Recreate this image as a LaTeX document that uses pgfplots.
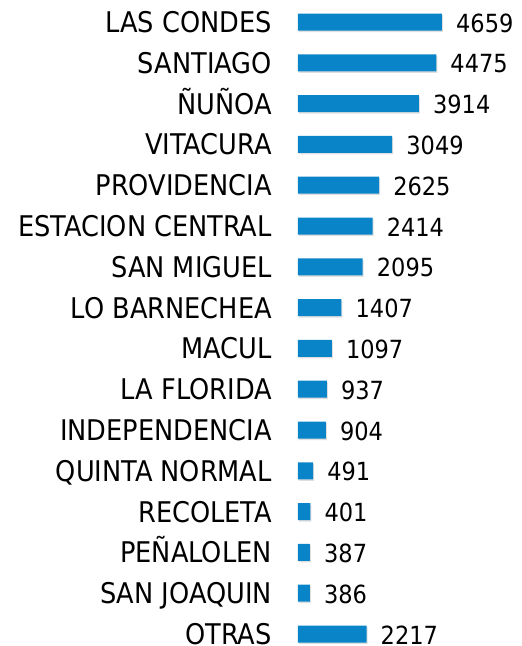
\documentclass[border=0pt]{standalone}
\usepackage{fontspec}
\setmainfont{DejaVu Sans Condensed}
\usepackage{pgfplots}
\pgfplotsset{compat=1.18}
\usetikzlibrary{shadows}
\definecolor{barblue}{RGB}{10,132,200}
\begin{document}
\begin{tikzpicture}
\begin{axis}[
  scale only axis,
  width=224pt, height=652.8pt,
  xmin=0, xmax=7249,
  ymin=-0.5, ymax=15.5,
  y dir=reverse,
  hide x axis,
  y axis line style={draw=none},
  ytick style={draw=none},
  major tick length=0pt,
  ytick={0,...,15},
  yticklabels={LAS CONDES,SANTIAGO,ÑUÑOA,VITACURA,PROVIDENCIA,ESTACION CENTRAL,SAN MIGUEL,LO BARNECHEA,MACUL,LA FLORIDA,INDEPENDENCIA,QUINTA NORMAL,RECOLETA,PEÑALOLEN,SAN JOAQUIN,OTRAS},
  yticklabel style={font=\fontsize{28.5}{32}\selectfont, anchor=east, inner sep=0pt, text height=20.8pt, text depth=0pt, xshift=-26pt},
  xbar, bar width=17pt,
  point meta=x,
  nodes near coords,
  nodes near coords style={font=\fontsize{25}{29}\selectfont, anchor=west, inner sep=0pt, text height=18.2pt, text depth=0pt, xshift=14pt, yshift=-1pt, /pgf/number format/1000 sep={}, /pgf/number format/assume math mode=true},
  clip=false,
]
\addplot[fill=barblue, draw=none, drop shadow={shadow xshift=1pt, shadow yshift=-1.5pt, opacity=0.25}] coordinates {
(4659,0) (4475,1) (3914,2) (3049,3) (2625,4) (2414,5) (2095,6) (1407,7) (1097,8) (937,9) (904,10) (491,11) (401,12) (387,13) (386,14) (2217,15)
};
\end{axis}
\pgfresetboundingbox
\useasboundingbox (-298pt,8.4pt) rectangle (224pt,654.4pt);
\end{tikzpicture}
\end{document}
